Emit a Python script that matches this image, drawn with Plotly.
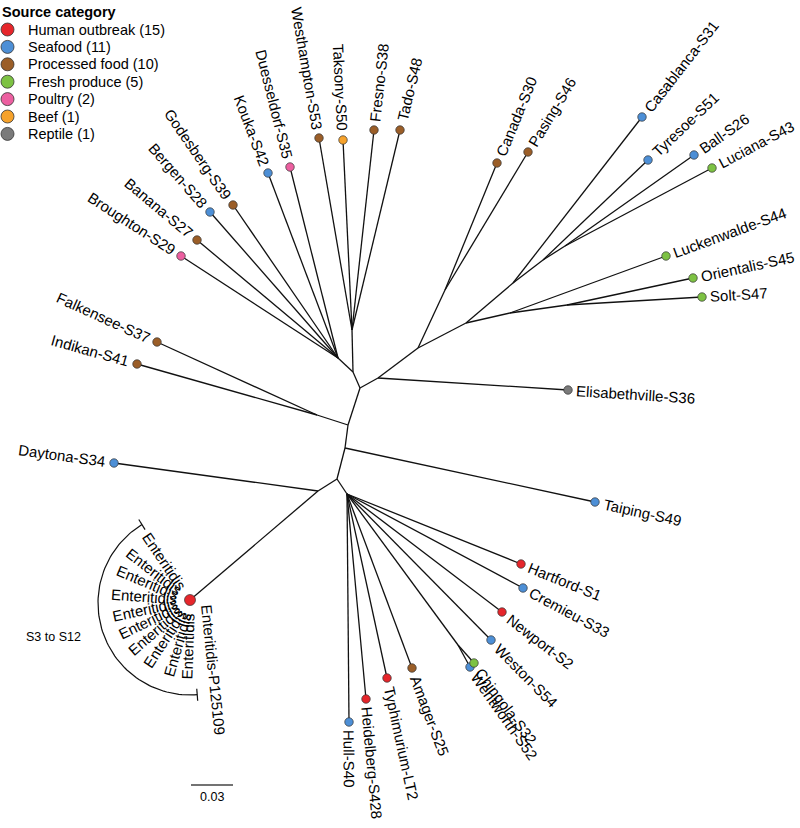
import math
import plotly.graph_objects as go

# ---------------- data ----------------
categories = ["Human outbreak", "Seafood", "Processed food", "Fresh produce", "Poultry", "Beef", "Reptile"]
category_counts = [15, 11, 10, 5, 2, 1, 1]
category_colors = ["#E6262B", "#4D8FD6", "#9B5E28", "#7DC243", "#EC5FA0", "#F6A22B", "#7A7A7A"]

# internal nodes of the unrooted tree layout (layout units; 1400 units = 1 substitution/site)
node_names  = ["A", "B", "B1", "B2", "C", "C2", "C3", "C4", "C5", "C7", "C8", "C6", "C9",
               "D", "E", "F", "G", "H", "I", "I2", "ENT"]
node_parent = [None, "A", "B", "B", "A", "C", "C2", "C2", "C4", "C5", "C7", "C4", "C6",
               "A", "D", "D", "F", "G", "G", "I", "H"]
node_x = [360, 353, 352, 338, 378, 418, 445, 466, 513, 543, 565, 510, 567,
          348, 317, 345, 337, 318, 347, 458, 190]
node_y = [388, 372, 330, 358, 378, 348, 290, 323, 283, 260, 246, 313, 305,
          425, 415, 448, 479, 491, 494, 645, 600]

tip_names = ["Broughton-S29", "Banana-S27", "Bergen-S28", "Godesberg-S39", "Kouka-S42",
             "Duesseldorf-S35", "Westhampton-S53", "Taksony-S50", "Fresno-S38", "Tado-S48",
             "Canada-S30", "Pasing-S46", "Casablanca-S31", "Tyresoe-S51", "Ball-S26",
             "Luciana-S43", "Luckenwalde-S44", "Orientalis-S45", "Solt-S47", "Elisabethville-S36",
             "Falkensee-S37", "Indikan-S41", "Taiping-S49", "Daytona-S34", "Hartford-S1",
             "Cremieu-S33", "Newport-S2", "Weston-S54", "Chingola-S32", "Wentworth-S52",
             "Amager-S25", "Typhimurium-LT2", "Heidelberg-S428", "Hull-S40"]
tip_category = ["Poultry", "Processed food", "Seafood", "Processed food", "Seafood",
                "Poultry", "Processed food", "Beef", "Processed food", "Processed food",
                "Processed food", "Processed food", "Seafood", "Seafood", "Seafood",
                "Fresh produce", "Fresh produce", "Fresh produce", "Fresh produce", "Reptile",
                "Processed food", "Processed food", "Seafood", "Seafood", "Human outbreak",
                "Seafood", "Human outbreak", "Seafood", "Fresh produce", "Seafood",
                "Processed food", "Human outbreak", "Human outbreak", "Seafood"]
tip_parent = ["B2", "B2", "B2", "B2", "B2", "B2", "B1", "B1", "B1", "B1",
              "C3", "C3", "C5", "C7", "C8", "C8", "C6", "C9", "C9", "C",
              "E", "E", "F", "H", "I", "I", "I", "I", "I2", "I2",
              "I", "I", "I", "I"]
tip_x = [181, 197, 210, 233, 268, 290, 319, 343, 374, 400,
         497, 528, 642, 648, 694, 712, 666, 693, 702, 568,
         157, 137, 595, 114, 521, 523, 502, 491, 474, 470,
         412, 387, 366, 349]
tip_y = [256, 240, 212, 205, 173, 167, 138, 140, 130, 130,
         163, 152, 117, 160, 155, 168, 256, 278, 297, 390,
         342, 364, 502, 463, 564, 588, 612, 640, 663, 667,
         668, 678, 699, 722]

# collapsed Enteritidis cluster (S3 to S12 + reference P125109)
ent_names = ["Enteritidis"] * 10 + ["Enteritidis-P125109"]
ent_angles = [-124, -142, -157, -176, 168, 154, 139, 123, 106, 92, 84]
ent_tip_x = [190] * 10 + [206]
ent_tip_y = [600] * 10 + [596]
ent_group_label = "S3 to S12"

scale_value = 0.03
units_per_subst = 1400.0

# ---------------- helpers ----------------
AW = {c: 556 for c in "0123456789"}
AW.update({'A': 667, 'B': 667, 'C': 722, 'D': 722, 'E': 667, 'F': 611, 'G': 778, 'H': 722, 'I': 278,
           'J': 500, 'K': 667, 'L': 556, 'M': 833, 'N': 722, 'O': 778, 'P': 667, 'Q': 778, 'R': 722,
           'S': 667, 'T': 611, 'U': 722, 'V': 667, 'W': 944, 'X': 667, 'Y': 667, 'Z': 611,
           'a': 556, 'b': 556, 'c': 500, 'd': 556, 'e': 556, 'f': 278, 'g': 556, 'h': 556, 'i': 222,
           'j': 222, 'k': 500, 'l': 222, 'm': 833, 'n': 556, 'o': 556, 'p': 556, 'q': 556, 'r': 333,
           's': 500, 't': 278, 'u': 556, 'v': 500, 'w': 722, 'x': 500, 'y': 500, 'z': 500,
           '-': 333, ' ': 278, '(': 333, ')': 333, '.': 278})


def tw(s, size):
    return sum(AW.get(ch, 556) for ch in s) / 1000.0 * size


FONT = "Liberation Sans, Arial, Helvetica, sans-serif"
LBL = 15
W, H = 800, 828
pos = {n: (x, y) for n, x, y in zip(node_names, node_x, node_y)}
par = dict(zip(node_names, node_parent))

fig = go.Figure()

# branches
ex, ey = [], []
for n, p in zip(node_names, node_parent):
    if p is None:
        continue
    ex += [pos[p][0], pos[n][0], None]
    ey += [pos[p][1], pos[n][1], None]
for x, y, p in zip(tip_x, tip_y, tip_parent):
    ex += [pos[p][0], x, None]
    ey += [pos[p][1], y, None]
fig.add_trace(go.Scatter(x=ex, y=ey, mode="lines", line=dict(color="#111111", width=1.3),
                         hoverinfo="skip"))

annotations = []


def label_box(x, y, a, text, gap, size):
    w = tw(text, size)
    cx = x + math.cos(a) * (gap + w / 2)
    cy = y + math.sin(a) * (gap + w / 2)
    hw, hh = w / 2 + 2, 0.62 * size
    ext_x = hw * abs(math.cos(a)) + hh * abs(math.sin(a))
    ext_y = hw * abs(math.sin(a)) + hh * abs(math.cos(a))
    return cx, cy, ext_x, ext_y


def add_label(x, y, ang_deg, text, gap):
    a = math.radians(ang_deg)
    size = LBL
    while True:
        cx, cy, exx, exy = label_box(x, y, a, text, gap, size)
        fits = (cx - exx >= 1 and cx + exx <= W - 1 and cy - exy >= 1 and cy + exy <= H - 1)
        if fits or size <= 12:
            break
        size -= 0.25
    ta = ang_deg
    while ta > 90:
        ta -= 180
    while ta < -90:
        ta += 180
    annotations.append(dict(x=cx, y=cy, text=text, textangle=ta, showarrow=False,
                            xanchor="center", yanchor="middle",
                            font=dict(size=size, family=FONT, color="black")))


for name, x, y, p in zip(tip_names, tip_x, tip_y, tip_parent):
    px, py = pos[p]
    if math.hypot(x - px, y - py) < 40 and par[p] is not None:
        px, py = pos[par[p]]
    ang = math.degrees(math.atan2(y - py, x - px))
    add_label(x, y, ang, name, 8.5)

ecx, ecy = pos["ENT"]
for name, ang, x, y in zip(ent_names, ent_angles, ent_tip_x, ent_tip_y):
    add_label(x, y, ang, name, 13 if x == ecx else 9)

# bracket around the Enteritidis cluster
R = 92
a0, a1 = -121.5, 85.5
bx, by = [], []
steps = 80
for k in range(steps + 1):
    t = a0 - (a0 + 360 - a1) * k / steps
    bx.append(ecx + R * math.cos(math.radians(t)))
    by.append(ecy + 3 + R * math.sin(math.radians(t)))
for t in (a0, a1):
    ca, sa = math.cos(math.radians(t)), math.sin(math.radians(t))
    bx += [None, ecx + (R - 6) * ca, ecx + (R + 6) * ca]
    by += [None, ecy + 3 + (R - 6) * sa, ecy + 3 + (R + 6) * sa]
fig.add_trace(go.Scatter(x=bx, y=by, mode="lines", line=dict(color="#111111", width=1.2),
                         hoverinfo="skip"))
annotations.append(dict(x=53, y=637, text=ent_group_label, showarrow=False, xanchor="center",
                        yanchor="middle", font=dict(size=12.5, family=FONT, color="black")))

# tip dots
cmap = dict(zip(categories, category_colors))
for cat in categories:
    xs = [x for x, c in zip(tip_x, tip_category) if c == cat]
    ys = [y for y, c in zip(tip_y, tip_category) if c == cat]
    if xs:
        fig.add_trace(go.Scatter(x=xs, y=ys, mode="markers",
                                 marker=dict(size=8.5, color=cmap[cat],
                                             line=dict(color="#333333", width=0.7)),
                                 hoverinfo="skip"))
fig.add_trace(go.Scatter(x=[ecx], y=[ecy], mode="markers",
                         marker=dict(size=11, color=cmap["Human outbreak"],
                                     line=dict(color="#333333", width=0.7)), hoverinfo="skip"))

# scale bar
sb_len = scale_value * units_per_subst
fig.add_trace(go.Scatter(x=[191, 191 + sb_len], y=[785, 785], mode="lines",
                         line=dict(color="#444444", width=1.5), hoverinfo="skip"))
annotations.append(dict(x=191 + sb_len / 2, y=797, text=f"{scale_value:.2f}", showarrow=False,
                        xanchor="center", yanchor="middle",
                        font=dict(size=12.5, family=FONT, color="black")))

# legend
annotations.append(dict(x=0, y=12, text="<b>Source category</b>", showarrow=False, xanchor="left",
                        yanchor="middle", font=dict(size=14.5, family=FONT, color="black")))
ly = [29.5 + 17.4 * i for i in range(len(categories))]
fig.add_trace(go.Scatter(x=[7.5] * len(categories), y=ly, mode="markers",
                         marker=dict(size=13, color=category_colors,
                                     line=dict(color="#333333", width=0.8)), hoverinfo="skip"))
for cat, n, y in zip(categories, category_counts, ly):
    annotations.append(dict(x=26, y=y, text=f"{cat} ({n})", showarrow=False, xanchor="left",
                            yanchor="middle", font=dict(size=14.5, family=FONT, color="black")))

fig.update_layout(width=W, height=H, margin=dict(l=0, r=0, t=0, b=0),
                  paper_bgcolor="white", plot_bgcolor="white", showlegend=False,
                  xaxis=dict(range=[0, W], visible=False, fixedrange=True),
                  yaxis=dict(range=[H, 0], visible=False, fixedrange=True),
                  annotations=annotations)
fig.write_html("out.html", config={"displayModeBar": False},
               post_script="document.body.style.margin='0';document.body.style.padding='0';"
                           "document.documentElement.style.overflow='hidden';")
